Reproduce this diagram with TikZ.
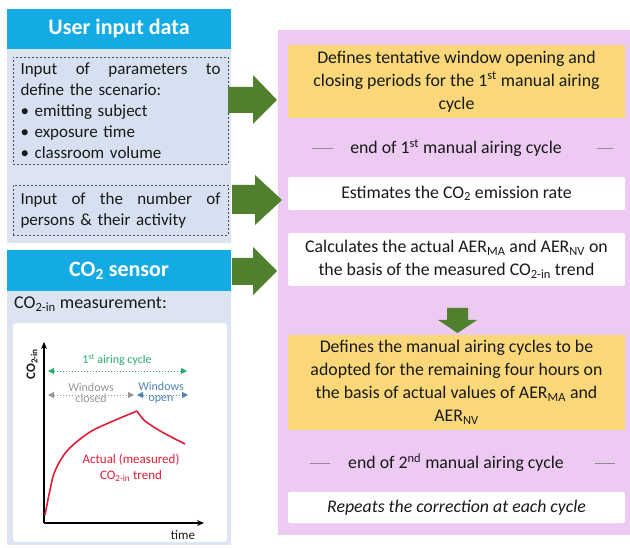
\documentclass[tikz,border=0pt]{standalone}
\usepackage{fontspec}
\setmainfont{Carlito}
\usetikzlibrary{arrows.meta}
\definecolor{hdrblue}{RGB}{20,170,228}
\definecolor{panelblue}{RGB}{220,228,242}
\definecolor{dashfill}{RGB}{214,224,240}
\definecolor{pinkbg}{RGB}{236,202,242}
\definecolor{yelbox}{RGB}{250,216,122}
\definecolor{arrgreen}{RGB}{80,128,46}
\definecolor{txt}{RGB}{25,25,25}
\definecolor{cyclegreen}{RGB}{40,170,110}
\definecolor{wingray}{RGB}{150,150,150}
\definecolor{winblue}{RGB}{80,130,180}
\definecolor{curvered}{RGB}{222,30,55}
\begin{document}
\begin{tikzpicture}[x=1pt,y=-1pt,
  hdr/.style={fill=hdrblue, text=white, font=\fontsize{22}{26}\selectfont\bfseries, minimum width=224, minimum height=40, inner sep=0},
  panel/.style={fill=panelblue, draw=none, inner sep=0},
  dbox/.style={draw=black!70, dash pattern=on 2pt off 2pt, line width=0.7pt, fill=dashfill, text=txt, align=left, inner xsep=7.5, inner ysep=4, font=\fontsize{17}{21}\selectfont},
  ybox/.style={fill=yelbox, minimum width=337, inner sep=0, align=center, text=txt, font=\fontsize{17.8}{23}\selectfont},
  wbox/.style={fill=white, rounded corners=2pt, minimum width=337, inner sep=0, align=center, text=txt, font=\fontsize{17.8}{23}\selectfont},
  endtxt/.style={text=txt, font=\fontsize{17.8}{23}\selectfont, inner sep=0},
  sepline/.style={draw=black!45, line width=0.8pt},
  blockarrow/.style={fill=arrgreen, draw=none},
  plotlbl/.style={font=\fontsize{12}{12.5}\selectfont, inner sep=0, align=center},
  dimarrow/.style={dash pattern=on 1.5pt off 1.5pt, line width=0.8pt, {Triangle[length=6pt,width=6pt]}-{Triangle[length=6pt,width=6pt]}}
]
\useasboundingbox (0,0) rectangle (630,548);
% ---------- left: user input ----------
\node[hdr] (h1) at (119,29) {User input data};
\node[panel, minimum width=224, minimum height=194] (p1) at (119,146) {};
\node[dbox, minimum height=107, text width=200, minimum width=215] (d1) at (120.5,110.5)
  {\hbox to 200pt{Input\hfill of\hfill parameters\hfill to}\\define the scenario:\\\textbullet\ emitting subject\\\textbullet\ exposure time\\\textbullet\ classroom volume};
\node[dbox, minimum height=50, text width=200, minimum width=215] (d2) at (120.5,210)
  {\hbox to 200pt{Input\hfill of\hfill the\hfill number\hfill of}\\persons \& their activity};
% ---------- left: CO2 sensor ----------
\node[hdr, minimum height=41] (h2) at (119,270.5) {CO\textsubscript{2} sensor};
\node[panel, minimum width=224, minimum height=254] (p2) at (119,418) {};
\node[anchor=west, inner sep=0, text=txt, font=\fontsize{18}{20}\selectfont] (meas) at (14,304) {CO\textsubscript{2-in} measurement:};
\node[fill=white, rounded corners=3pt, minimum width=214, minimum height=219, inner sep=0] (plotbg) at (120,432.5) {};
% plot
\coordinate (o) at (44,523);
\coordinate (ytop) at (44,342);
\coordinate (xend) at (204,523);
\draw[line width=1.3pt, -{Stealth[length=7pt,width=6pt]}] (o) -- (ytop);
\draw[line width=1.3pt, -{Stealth[length=7pt,width=6pt]}] (o) -- (xend);
\node[rotate=90, font=\fontsize{13}{14}\selectfont\bfseries, inner sep=0, text=txt] (ylab) at (32,364) {CO\textsubscript{2-in}};
\node[font=\fontsize{13}{14}\selectfont, inner sep=0, text=txt] (xlab) at (183,535) {time};
\coordinate (g1) at (48,371); \coordinate (g2) at (187,371);
\draw[dimarrow, cyclegreen] (g1) -- (g2);
\node[plotlbl, text=cyclegreen] (cyc) at (117,360) {1\textsuperscript{st} airing cycle};
\coordinate (c1) at (48,395); \coordinate (c2) at (134,395); \coordinate (c3) at (137,395); \coordinate (c4) at (188,395);
\draw[dimarrow, wingray] (c1) -- (c2);
\draw[dimarrow, winblue] (c3) -- (c4);
\node[plotlbl, text=wingray] (wc) at (91,393) {Windows\\[-1pt]closed};
\node[plotlbl, text=winblue] (wo) at (161,393) {Windows\\[-1pt]open};
\draw[curvered, line width=1.6pt, line join=round] plot[smooth, tension=0.6] coordinates {(45,515) (50,490) (55,471) (67,451) (87,434) (104,425) (137,411)};
\draw[curvered, line width=1.6pt, line join=round] plot[smooth, tension=0.5] coordinates {(137,411) (145,421) (162,432) (185,444)};
\node[plotlbl, text=curvered, font=\fontsize{13}{15.5}\selectfont] (act) at (131,468) {Actual (measured)\\CO\textsubscript{2-in} trend};
% ---------- right panel ----------
\node[fill=pinkbg, minimum width=352, minimum height=505, inner sep=0] (pink) at (454,282.5) {};
\node[ybox, minimum height=73] (y1) at (456.5,81.5) {Defines tentative window opening and\\closing periods for the 1\textsuperscript{st} manual airing\\cycle};
\node[endtxt] (e1) at (456,148) {end of 1\textsuperscript{st} manual airing cycle};
\draw[sepline] (312,148) -- (333,148);
\draw[sepline] (597,148) -- (613,148);
\node[wbox, minimum height=33] (w1) at (456.5,193.5) {Estimates the CO\textsubscript{2} emission rate};
\node[wbox, minimum height=53] (w2) at (456.5,259.5) {Calculates the actual AER\textsubscript{MA} and AER\textsubscript{NV} on\\the basis of the measured CO\textsubscript{2-in} trend};
\node[ybox, minimum height=95] (y2) at (456.5,382.5) {Defines the manual airing cycles to be\\adopted for the remaining four hours on\\the basis of actual values of AER\textsubscript{MA} and\\AER\textsubscript{NV}};
\node[endtxt] (e2) at (456,463) {end of 2\textsuperscript{nd} manual airing cycle};
\draw[sepline] (310,463) -- (330,463);
\draw[sepline] (595,463) -- (615,463);
\node[wbox, minimum height=31] (w3) at (456.5,507.5) {\itshape Repeats the correction at each cycle};
% ---------- block arrows ----------
\fill[blockarrow] (228,87) -- (253,87) -- (253,75) -- (277,100) -- (253,124) -- (253,113) -- (228,113) -- cycle;
\fill[blockarrow] (232,185) -- (255,185) -- (255,175) -- (282,200) -- (255,225) -- (255,214) -- (232,214) -- cycle;
\fill[blockarrow] (232,258) -- (253,258) -- (253,247) -- (277,271) -- (253,295) -- (253,285) -- (232,285) -- cycle;
\fill[blockarrow] (447,308) -- (468,308) -- (468,320) -- (477,320) -- (457.5,333) -- (438,320) -- (447,320) -- cycle;
\end{tikzpicture}
\end{document}
